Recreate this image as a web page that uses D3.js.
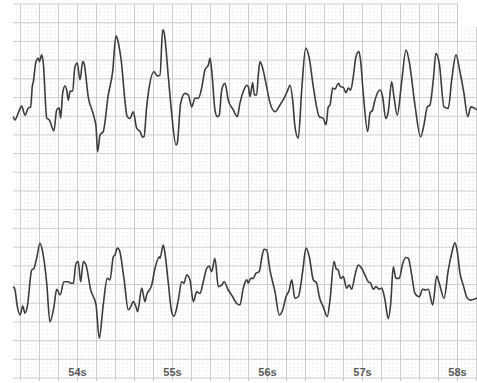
<!DOCTYPE html>
<html>
<head>
<meta charset="utf-8">
<script src="https://cdn.jsdelivr.net/npm/d3@7"></script>
<style>
  body { margin: 0; background: #fff; }
</style>
</head>
<body>
<div id="chart"></div>
<script>
// time in seconds, amplitude in mV
var tickLabels = ['54s', '55s', '56s', '57s', '58s'];
var tickTimes = [54, 55, 56, 57, 58];

var topTime = [53.324,53.342,53.377,53.412,53.447,53.482,53.507,53.524,53.535,53.563,53.587,53.598,53.623,53.640,53.676,53.703,53.752,53.781,53.808,53.823,53.844,53.868,53.886,53.903,53.921,53.949,53.973,53.998,54.026,54.055,54.068,54.113,54.173,54.195,54.212,54.237,54.271,54.324,54.370,54.405,54.419,54.455,54.524,54.552,54.587,54.623,54.658,54.686,54.700,54.728,54.745,54.805,54.840,54.868,54.897,54.910,54.956,54.991,55.037,55.050,55.086,55.131,55.166,55.202,55.237,55.271,55.307,55.342,55.377,55.395,55.412,55.447,55.471,55.492,55.518,55.552,55.587,55.640,55.682,55.710,55.745,55.781,55.798,55.816,55.844,55.861,55.886,55.903,55.921,55.939,55.991,56.019,56.079,56.131,56.173,56.208,56.237,56.265,56.289,56.324,56.360,56.402,56.440,56.482,56.545,56.587,56.616,56.640,56.658,56.686,56.710,56.745,56.770,56.798,56.826,56.850,56.876,56.903,56.931,56.963,56.981,57.008,57.055,57.079,57.107,57.131,57.184,57.212,57.244,57.271,57.307,57.331,57.366,57.412,57.458,57.492,57.552,57.612,57.647,57.682,57.710,57.745,57.773,57.808,57.858,57.903,57.939,57.984,58.026,58.068,58.107,58.142,58.205];
var topValues = [-0.31,-0.40,-0.21,-0.03,-0.27,-0.08,-0.05,0.49,0.62,1.16,1.25,1.16,1.34,1.12,-0.35,-0.40,-0.69,-0.13,-0.08,-0.35,0.32,0.51,0.40,0.13,0.36,0.38,1.02,1.12,0.67,1.16,1.12,0.22,-0.31,-0.58,-1.25,-0.80,-0.71,0.27,0.89,1.85,1.78,1.29,-0.31,-0.36,-0.18,-0.62,-0.71,-0.86,-0.85,-0.05,0.31,0.89,0.78,0.80,2.01,1.96,0.76,-0.22,-1.07,-1.02,0.05,0.31,0.27,-0.05,0.18,0.18,0.45,0.94,1.07,1.25,0.94,-0.13,-0.31,-0.27,0.40,0.58,0.13,-0.13,-0.31,0.05,0.36,0.53,0.49,0.22,0.60,0.27,0.27,0.80,1.16,1.07,0.49,0.13,-0.18,0,0.18,0.36,0.53,0.13,-0.58,-0.89,0.40,1.52,1.25,0.49,-0.31,-0.36,-0.53,-0.05,0,0.45,0.42,0.58,0.49,0.47,0.33,0.45,0.40,0.76,1.29,1.43,1.16,0.31,-0.71,-0.22,-0.13,0.13,0.40,0.22,-0.36,-0.18,0.62,0.22,-0.27,0.62,1.47,1.16,0,-0.85,-0.53,-0.05,0,0.67,1.38,1.12,-0.05,-0.09,0.67,1.34,0.89,0.31,-0.31,-0.05,-0.13];

var bottomTime = [53.324,53.342,53.366,53.395,53.423,53.447,53.471,53.518,53.542,53.570,53.605,53.633,53.676,53.710,53.752,53.781,53.816,53.858,53.903,53.928,53.956,53.984,54.008,54.033,54.061,54.089,54.139,54.195,54.229,54.271,54.313,54.342,54.377,54.395,54.419,54.440,54.489,54.535,54.560,54.587,54.616,54.633,54.676,54.710,54.728,54.781,54.816,54.861,54.868,54.903,54.921,54.956,54.991,55.016,55.061,55.097,55.121,55.149,55.184,55.219,55.255,55.289,55.324,55.360,55.387,55.412,55.447,55.482,55.518,55.542,55.587,55.633,55.676,55.710,55.745,55.781,55.798,55.823,55.850,55.879,55.913,55.939,55.963,55.991,56.026,56.079,56.124,56.160,56.195,56.229,56.255,56.289,56.324,56.370,56.405,56.440,56.482,56.518,56.545,56.587,56.629,56.658,56.700,56.721,56.745,56.770,56.798,56.833,56.861,56.886,56.921,56.956,56.991,57.026,57.061,57.086,57.113,57.142,57.177,57.202,57.237,57.271,57.297,57.324,57.352,57.387,57.423,57.458,57.482,57.518,57.552,57.598,57.633,57.668,57.692,57.739,57.781,57.808,57.858,57.903,57.939,57.973,57.998,58.026,58.061,58.103,58.139,58.205];
var bottomValues = [0.09,0,-0.43,-0.67,-0.43,-0.62,-0.45,0.53,0.58,0.85,1.25,1.02,0.18,-0.85,-0.45,0.02,-0.13,0.22,0.22,0.18,0.18,0.71,0.76,0.22,0.76,0.67,0,-0.40,-1.29,-0.40,0.31,0.27,0.89,0.94,1.12,1.07,0.31,-0.53,-0.45,-0.31,-0.45,-0.58,0.05,-0.31,-0.13,0.13,0.58,0.89,0.85,1.20,0.98,0.18,-0.58,-0.70,-0.27,0.22,0.18,0.40,0.27,-0.31,-0.05,-0.09,0.22,0.58,0.64,0.49,0.85,0.09,0.13,0.22,0,-0.18,-0.36,-0.40,0.05,0.27,0.18,0.31,0.31,0.45,0.49,0.85,1.09,1.07,0.53,-0.05,-0.67,-0.53,-0.18,0,0.27,-0.22,-0.18,0.49,1.12,0.89,0.27,0.18,-0.18,-0.45,-0.71,-0.27,0.76,0.58,0.53,0.31,0.36,0.05,0.13,0.02,0.40,0.67,0.58,0.40,0.22,0.18,0.02,0.09,0.02,0.05,-0.27,-0.76,-0.36,0.62,0.31,0.31,0.71,0.87,0.85,0.40,-0.09,-0.18,0.02,0,0.02,-0.40,0.37,0.18,-0.22,0.53,0.98,1.26,1.02,0.45,0.13,-0.22,-0.27,-0.21];

var width = 477, height = 383;
var paperLeft = 13, paperTop = 4, paperBottom = 381;

var svg = d3.select('#chart').append('svg').attr('width', width).attr('height', height);

var x = d3.scaleLinear().domain([54, 58]).range([77.5, 457.5]);
// 0.5 mV per big square (18.7px)
var yTop = d3.scaleLinear().domain([0, 1]).range([105, 105 - 37.4]);
var yBottom = d3.scaleLinear().domain([0, 1]).range([290, 290 - 37.4]);
// paper millimetres for the horizontal grid
var yPaper = d3.scaleLinear().domain([0, 1]).range([paperTop, paperTop + 3.74]);

var grid = svg.append('g');
var tStart = x.invert(paperLeft), tEnd = x.invert(width);

// minor dots: dashed vertical lines every 0.04s
var minorT = d3.range(Math.ceil(tStart / 0.04) * 0.04, tEnd, 0.04);
grid.selectAll('line.minorv')
  .data(minorT)
  .enter()
  .append('line')
  .attr('x1', d => x(d)).attr('x2', d => x(d))
  .attr('y1', paperTop).attr('y2', paperBottom)
  .attr('stroke', '#d6d6d6')
  .attr('stroke-width', 0.9)
  .attr('stroke-dasharray', '1 2.74');

var majorMm = d3.range(0, 101, 5);
grid.selectAll('line.majorh')
  .data(majorMm)
  .enter()
  .append('line')
  .attr('x1', paperLeft).attr('x2', width)
  .attr('y1', d => yPaper(d)).attr('y2', d => yPaper(d))
  .attr('stroke', '#cfcfcf')
  .attr('stroke-width', 1);

var majorT = d3.range(Math.ceil(tStart / 0.2) * 0.2, tEnd, 0.2);
grid.selectAll('line.majorv')
  .data(majorT)
  .enter()
  .append('line')
  .attr('x1', d => x(d)).attr('x2', d => x(d))
  .attr('y1', paperTop).attr('y2', paperBottom)
  .attr('stroke', '#cbcbcb')
  .attr('stroke-width', 1);

// torn corner top right
svg.append('rect').attr('x', 458).attr('y', 0).attr('width', 19).attr('height', 27).attr('fill', '#fff');

var topLine = d3.line().x((d, i) => x(topTime[i])).y(d => yTop(d)).curve(d3.curveMonotoneX);
var bottomLine = d3.line().x((d, i) => x(bottomTime[i])).y(d => yBottom(d)).curve(d3.curveMonotoneX);

svg.append('path').attr('d', topLine(topValues))
  .attr('fill', 'none').attr('stroke', '#3c3c3c').attr('stroke-width', 1.6).attr('stroke-linejoin', 'round');
svg.append('path').attr('d', bottomLine(bottomValues))
  .attr('fill', 'none').attr('stroke', '#3c3c3c').attr('stroke-width', 1.6).attr('stroke-linejoin', 'round');

svg.selectAll('text.tick')
  .data(tickTimes)
  .enter()
  .append('text')
  .attr('x', d => x(d))
  .attr('y', 376)
  .attr('text-anchor', 'middle')
  .attr('font-family', 'Liberation Sans, Arial, sans-serif')
  .attr('font-size', 11)
  .attr('font-weight', 'bold')
  .attr('fill', '#5a5a5a')
  .text((d, i) => tickLabels[i]);
</script>
</body>
</html>
